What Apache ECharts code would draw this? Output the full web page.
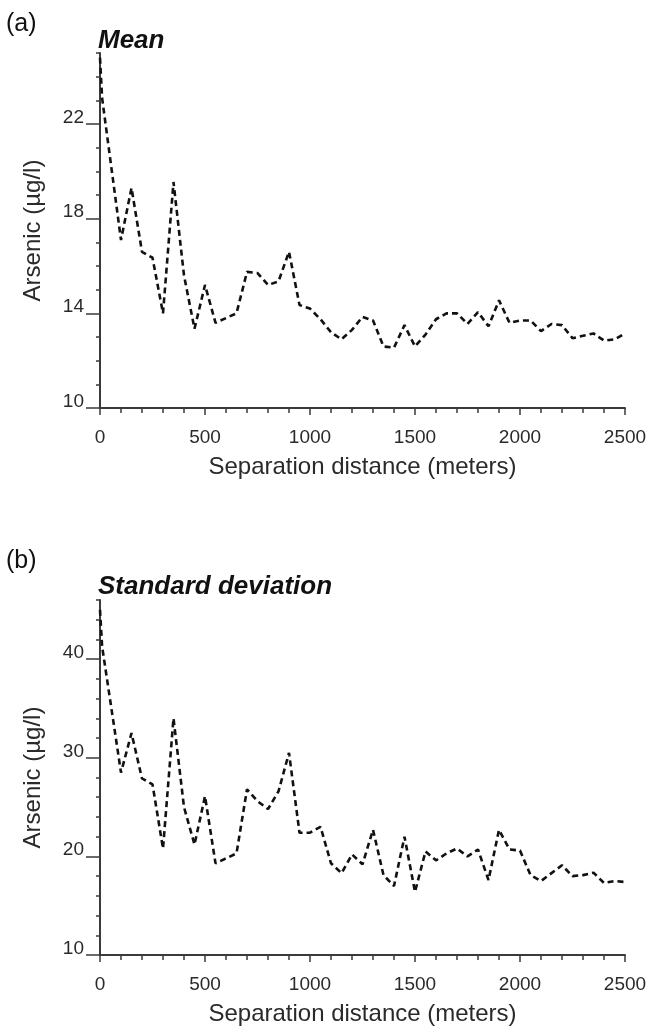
<!DOCTYPE html>
<html>
<head>
<meta charset="utf-8">
<script src="https://cdn.jsdelivr.net/npm/echarts@6/dist/echarts.min.js"></script>
<style>
  html, body { margin: 0; padding: 0; background: #fff; }
  #chart { width: 650px; height: 1029px; }
</style>
</head>
<body>
<div id="chart"></div>
<script>
// Separation distance (meters)
const distances = [0, 10, 100, 150, 200, 250, 300, 350, 400, 450, 500, 550, 600, 650, 700, 750, 800, 850, 900, 950,
  1000, 1050, 1100, 1150, 1200, 1250, 1300, 1350, 1400, 1450, 1500, 1550, 1600, 1650, 1700, 1750, 1800, 1850, 1900, 1950,
  2000, 2050, 2100, 2150, 2200, 2250, 2300, 2350, 2400, 2450, 2500];
// (a) Mean arsenic (µg/l)
const meanValues = [24.8, 23.1, 17.1, 19.3, 16.6, 16.35, 14.0, 19.55, 15.6, 13.35, 15.2, 13.6, 13.8, 14.0, 15.75, 15.7, 15.2, 15.35, 16.6, 14.35,
  14.2, 13.75, 13.2, 12.9, 13.3, 13.85, 13.7, 12.6, 12.55, 13.5, 12.6, 13.1, 13.75, 14.0, 14.0, 13.55, 14.05, 13.45, 14.55, 13.6,
  13.7, 13.7, 13.25, 13.55, 13.5, 12.95, 13.05, 13.15, 12.85, 12.9, 13.15];
// (b) Standard deviation of arsenic (µg/l)
const sdValues = [45.0, 41.3, 28.5, 32.5, 27.9, 27.3, 20.8, 34.0, 25.0, 21.2, 26.1, 19.3, 19.8, 20.3, 26.8, 25.6, 24.8, 26.6, 30.5, 22.4,
  22.4, 23.0, 19.3, 18.3, 20.2, 19.2, 22.7, 18.1, 17.0, 22.0, 16.4, 20.5, 19.6, 20.3, 20.8, 20.0, 20.7, 17.6, 22.7, 20.7,
  20.6, 18.1, 17.5, 18.3, 19.1, 18.0, 18.1, 18.35, 17.3, 17.5, 17.4];
// Tick labels
const xTicks = [0, 500, 1000, 1500, 2000, 2500];
const meanYTicks = [10, 14, 18, 22];
const sdYTicks = [10, 20, 30, 40];

const FONT = '"Liberation Sans", Arial, Helvetica, sans-serif';
const AXIS_COLOR = '#3a3a3a';
const LABEL_COLOR = '#2a2a2a';

function pairs(xs, ys) { return xs.map((x, i) => [x, ys[i]]); }

function xAxisDef(gridIndex) {
  return {
    type: 'value', gridIndex: gridIndex, min: 0, max: 2500, interval: 500,
    name: 'Separation distance (meters)', nameLocation: 'middle', nameGap: 47,
    nameTextStyle: { fontFamily: FONT, fontSize: 24, color: LABEL_COLOR },
    axisLine: { show: true, onZero: false, lineStyle: { color: AXIS_COLOR, width: 2 } },
    axisTick: { show: true, length: 7, lineStyle: { color: AXIS_COLOR, width: 1.5 } },
    minorTick: { show: true, splitNumber: 5, length: 5, lineStyle: { color: AXIS_COLOR, width: 1.5 } },
    axisLabel: { fontFamily: FONT, fontSize: 19, color: LABEL_COLOR, margin: 20,
      customValues: xTicks, formatter: function (v) { return String(v); } },
    splitLine: { show: false }
  };
}

function yAxisMain(gridIndex, min, max, ticks) {
  return {
    type: 'value', gridIndex: gridIndex, min: min, max: max, position: 'left',
    name: 'Arsenic (µg/l)', nameLocation: 'middle', nameGap: 55,
    nameTextStyle: { fontFamily: FONT, fontSize: 24, color: LABEL_COLOR },
    axisLine: { show: true, onZero: false, lineStyle: { color: AXIS_COLOR, width: 2 } },
    axisTick: { show: true, length: 14, customValues: ticks, lineStyle: { color: AXIS_COLOR, width: 1.5 } },
    axisLabel: { fontFamily: FONT, fontSize: 19, color: LABEL_COLOR, margin: 16,
      verticalAlign: 'bottom', lineHeight: 13, customValues: ticks,
      formatter: function (v) { return String(v); } },
    splitLine: { show: false }
  };
}

function yAxisMinor(gridIndex, min, max, step) {
  return {
    type: 'value', gridIndex: gridIndex, min: min, max: max, interval: step, position: 'left', offset: 0,
    axisLine: { show: false },
    axisTick: { show: true, length: 4, lineStyle: { color: AXIS_COLOR, width: 1.5 } },
    axisLabel: { show: false },
    splitLine: { show: false }
  };
}

const lineStyle = { color: '#111', width: 2.6, type: [6, 4] };

const option = {
  backgroundColor: '#fff',
  animation: false,
  title: [
    { text: '(a)', left: 6, top: 12, padding: 0, textStyle: { fontFamily: FONT, fontSize: 25, fontWeight: 'normal', color: '#111' } },
    { text: 'Mean', left: 98, top: 28, padding: 0, textStyle: { fontFamily: FONT, fontSize: 26, fontWeight: 'bold', fontStyle: 'italic', color: '#111' } },
    { text: '(b)', left: 6, top: 549, padding: 0, textStyle: { fontFamily: FONT, fontSize: 25, fontWeight: 'normal', color: '#111' } },
    { text: 'Standard deviation', left: 98, top: 574, padding: 0, textStyle: { fontFamily: FONT, fontSize: 26, fontWeight: 'bold', fontStyle: 'italic', color: '#111' } }
  ],
  grid: [
    { left: 100, width: 525, top: 53, height: 355 },
    { left: 100, width: 525, top: 600, height: 355 }
  ],
  xAxis: [xAxisDef(0), xAxisDef(1)],
  yAxis: [
    yAxisMain(0, 10, 25, meanYTicks),
    yAxisMinor(0, 10, 25, 1),
    yAxisMain(1, 10, 46, sdYTicks),
    yAxisMinor(1, 10, 46, 2)
  ],
  series: [
    { type: 'line', xAxisIndex: 0, yAxisIndex: 0, data: pairs(distances, meanValues),
      showSymbol: false, symbol: 'none', lineStyle: lineStyle },
    { type: 'line', xAxisIndex: 1, yAxisIndex: 2, data: pairs(distances, sdValues),
      showSymbol: false, symbol: 'none', lineStyle: lineStyle }
  ]
};

const chart = echarts.init(document.getElementById('chart'), null, { renderer: 'canvas' });
chart.setOption(option);
</script>
</body>
</html>
